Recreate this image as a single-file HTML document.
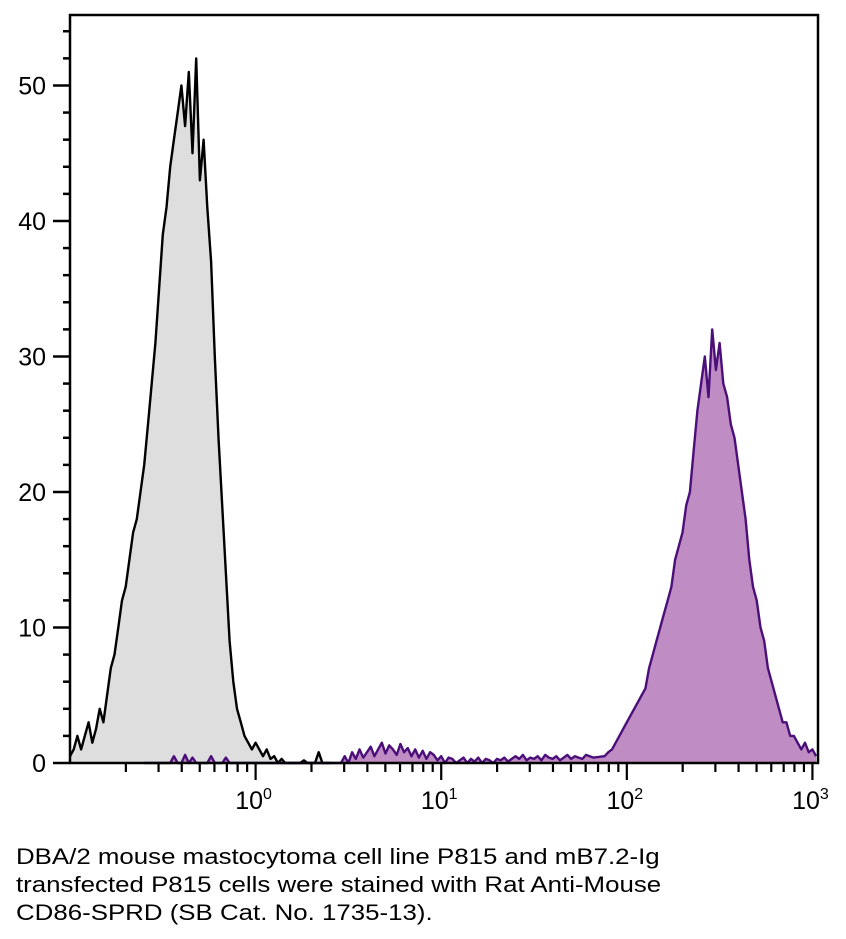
<!DOCTYPE html>
<html><head><meta charset="utf-8"><style>
body{margin:0;background:#fff;width:846px;height:939px;overflow:hidden;font-family:"Liberation Sans",sans-serif}
#cap{position:absolute;left:16px;top:843px;font-size:22px;line-height:28px;color:#000;transform:scaleX(1.175);transform-origin:0 0;white-space:nowrap}
</style></head><body>
<svg id="chart" width="846" height="840" style="position:absolute;left:0;top:0"></svg>
<div id="cap">DBA/2 mouse mastocytoma cell line P815 and mB7.2-Ig<br>transfected P815 cells were stained with Rat Anti-Mouse<br>CD86-SPRD (SB Cat. No. 1735-13).</div>
<script>
// black (unstained) histogram, log10 bins step 0.02 from -1.0
const blackStart = -1.0;
const blackVals = [0.5,1,2,1,2,3,1.5,2.5,4,3,5,7,8,10,12,13,15,17,18,20,22,25,28,31,35,39,41,44,46,48,50,47,51,45,52,43,46,41,37,30,24,19,14,9,6,4,3,2,1.5,1,1.5,1,0.5,1,0.3,0.5,0,0.3,0,0,0,0,0,0.2,0,0,0,0.8,0,0,0];
// purple (stained) histogram: low-level part from -0.6, main peak from 1.88, step 0.02
const purpleLowStart = -0.6;
const purpleLow = [0,0,0,0,0,0,0,0,0.5,0,0,0.6,0,0.4,0,0,0,0,0.5,0,0,0,0.4,0,0,0,0,0,0,0,0,0,0,0,0,0,0,0,0,0,0,0,0,0,0,0,0,0,0,0,0,0,0,0,0.5,0,0.8,0.3,1,0.4,0.8,1.2,0.5,1,1.5,0.7,1.3,1,0.6,1.4,0.8,1.1,0.5,1,0.4,0.9,0.3,0.8,0.6,0.2,0.5,0,0.4,0.3,0,0.2,0.4,0,0.3,0.1,0.4,0,0.3,0.2,0,0.3,0.2,0.4,0.1,0.3,0.5,0.3,0.6,0.2,0.4,0.3,0.5,0.2,0.6,0.4,0.3,0.5,0.2,0.4,0.6,0.3,0.5,0.4,0.3,0.6,0.5,0.4];
const purpleHighStart = 1.88;
const purpleHigh = [0.5,0.8,1,1.5,2,2.5,3,3.5,4,4.5,5,5.5,7,8,9,10,11,12,13,15,16,17,19,20,23,26,28,30,27,32,29,31,28,27,25,24,22,20,18,15,13,12,10,9,7,6,5,4,3,3,2,2,1.5,1,1.5,0.8,1,0.5];
const yTicks = [0,10,20,30,40,50];
const xDecades = [0,1,2,3];
const NS="http://www.w3.org/2000/svg";
const svg=document.getElementById('chart');
const L=70,R=818,T=15,B=763;
const xMin=-1.0,xMax=3.03,yMax=55.2;
function sx(v){return L+(v-xMin)/(xMax-xMin)*(R-L);}
function sy(v){return B-v/yMax*(B-T);}
function el(t,a){const e=document.createElementNS(NS,t);for(const k in a)e.setAttribute(k,a[k]);svg.appendChild(e);return e;}
function pts(start,vals){return vals.map((v,i)=>[start+i*0.02,v]);}
function drawSeries(p,fill,stroke,name){
  p=p.filter(q=>q[0]<=xMax);
  let d='';
  p.forEach((q,i)=>{d+=(i?' L':'M')+sx(q[0]).toFixed(1)+','+sy(q[1]).toFixed(1);});
  const x0=sx(p[0][0]),x1=sx(p[p.length-1][0]);
  const a=el('path',{d:'M'+x0+','+sy(0)+' L'+d.slice(1)+' L'+x1+','+sy(0)+' Z',fill:fill,stroke:'none'});
  
  
  const l=el('path',{d:d,fill:'none',stroke:stroke,'stroke-width':2.4,'stroke-linejoin':'round'});
  
  
}
drawSeries(pts(blackStart,blackVals),'#dedede','#000','unstained-histogram');
const pp=pts(purpleLowStart,purpleLow).filter(q=>q[0]<purpleHighStart-0.001).concat(pts(purpleHighStart,purpleHigh));
drawSeries(pp,'#c08cc4','#4b0f7a','stained-histogram');
const fr=el('rect',{x:L,y:T,width:R-L,height:B-T,fill:'none',stroke:'#000','stroke-width':2.5});


for(let v=0;v<=54;v+=2){
  const major=v%10===0;
  el('line',{x1:major?53:63,x2:L,y1:sy(v),y2:sy(v),stroke:'#000','stroke-width':2.5});
}
yTicks.forEach(v=>{
  const t=el('text',{x:46,y:sy(v)+9,'text-anchor':'end','font-size':25,'font-family':'Liberation Sans, sans-serif'});
  t.textContent=v;
  
  
});
for(let d=-1;d<3;d++){for(let m=1;m<10;m++){const lv=d+Math.log10(m);if(lv<xMin+0.01)continue;
  el('line',{x1:sx(lv),x2:sx(lv),y1:B,y2:B+(m===1?17:9),stroke:'#000','stroke-width':2.2});}}
el('line',{x1:sx(3),x2:sx(3),y1:B,y2:B+17,stroke:'#000','stroke-width':2.2});
xDecades.forEach(dd=>{
  const t=el('text',{x:sx(dd)-2,y:B+46,'text-anchor':'middle','font-size':25,'font-family':'Liberation Sans, sans-serif'});
  t.textContent='10';
  const s=document.createElementNS(NS,'tspan');s.setAttribute('dy',-10);s.setAttribute('font-size',16);s.textContent=dd;t.appendChild(s);
  
  
});
</script>
</body></html>
